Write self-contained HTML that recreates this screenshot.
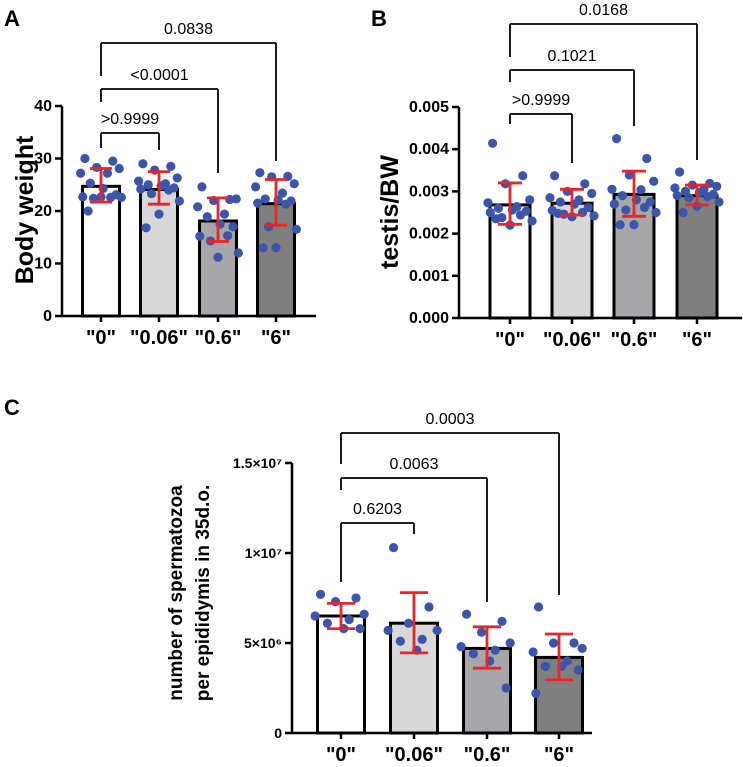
<!DOCTYPE html>
<html><head><meta charset="utf-8"><style>
html,body{margin:0;padding:0;background:#fff;}
svg{display:block;font-family:"Liberation Sans",Arial,sans-serif;}
</style></head><body>
<svg id="fig" width="743" height="767" viewBox="0 0 743 767">
<text x="4" y="26" font-size="22" font-weight="bold">A</text>
<text x="371" y="26" font-size="22" font-weight="bold">B</text>
<text x="4" y="415" font-size="22" font-weight="bold">C</text>
<text transform="translate(33,210) rotate(-90)" text-anchor="middle" font-size="25" font-weight="bold">Body weight</text>
<text transform="translate(398,212) rotate(-90)" text-anchor="middle" font-size="25" font-weight="bold">testis/BW</text>
<text transform="translate(182,593) rotate(-90)" text-anchor="middle" font-size="19" font-weight="bold">number of spermatozoa</text>
<text transform="translate(209,593) rotate(-90)" text-anchor="middle" font-size="19" font-weight="bold">per epididymis in 35d.o.</text>
</svg>
<script>
const categories = ['"0"','"0.06"','"0.6"','"6"'];
const fills = ['#ffffff','#d8d8d8','#a7a7a9','#7f7f7f'];
// Panel A
const aMeans = [24.7, 24.1, 18.1, 21.4];
const aLow = [21.7, 21.3, 14.2, 17.3];
const aHigh = [28.1, 27.5, 22.5, 26.0];
const aPoints = [
 [30,29.5,28.3,28.1,27.2,27.2,25.3,24.3,23.1,22.7,22.6,22.4,22.6,22.7,20],
 [29,28.5,27.8,26.3,25.7,25.2,25.0,24.8,24.4,24.2,24.0,23.3,21.9,19.4,16.8],
 [24.6,22.2,22.0,22.3,20.8,19.4,18.9,17.5,17.0,15.2,15.3,14.3,12.0,11.2],
 [27.3,26.6,26.5,25.2,24.6,23.4,22.3,22.1,21.9,21.5,21.3,17.0,16.5,13.0,13.0]];
const aTicks = [0,10,20,30,40];
const aTickLabels = ['0','10','20','30','40'];
const aPvals = ['>0.9999','<0.0001','0.0838'];
// Panel B
const bMeans = [0.00268, 0.00272, 0.00293, 0.00290];
const bLow = [0.00222, 0.00244, 0.00241, 0.00268];
const bHigh = [0.00320, 0.00305, 0.00348, 0.00315];
const bPoints = [
 [0.00414,0.00337,0.00318,0.0028,0.00273,0.00264,0.00260,0.00256,0.00253,0.0025,0.00244,0.00238,0.0023,0.0022,0.00235],
 [0.00337,0.00318,0.0030,0.00295,0.00285,0.0028,0.00275,0.0027,0.00262,0.00255,0.0025,0.00246,0.00242,0.0024,0.00248],
 [0.00425,0.00378,0.00339,0.00324,0.00305,0.00304,0.0029,0.00280,0.00275,0.00270,0.00262,0.00256,0.00250,0.00221,0.00221],
 [0.00346,0.00319,0.00315,0.00312,0.00308,0.00305,0.00300,0.00297,0.00293,0.0029,0.00288,0.00285,0.00275,0.00265,0.00250]];
const bTicks = [0,0.001,0.002,0.003,0.004,0.005];
const bTickLabels = ['0.000','0.001','0.002','0.003','0.004','0.005'];
const bPvals = ['>0.9999','0.1021','0.0168'];
// Panel C
const cMeans = [6.5e6, 6.1e6, 4.7e6, 4.2e6];
const cLow = [5.8e6, 4.45e6, 3.6e6, 2.95e6];
const cHigh = [7.2e6, 7.8e6, 5.9e6, 5.5e6];
const cPoints = [
 [7.7e6,7.5e6,7.3e6,6.6e6,6.5e6,6.3e6,6.1e6,5.8e6,5.8e6],
 [10.3e6,7.0e6,6.1e6,5.7e6,5.7e6,5.2e6,5.1e6,4.6e6],
 [6.6e6,6.2e6,5.6e6,5.0e6,4.8e6,4.6e6,4.4e6,4.0e6,2.5e6],
 [7.0e6,5.0e6,5.0e6,4.7e6,4.5e6,4.0e6,3.7e6,3.7e6,3.5e6,2.2e6]];
const cTicks = [0,5e6,1e7,1.5e7];
const cTickLabels = ['0','5×10⁶','1×10⁷','1.5×10⁷'];
const cPvals = ['0.6203','0.0063','0.0003'];

const NS='http://www.w3.org/2000/svg';
const svg=document.getElementById('fig');
function mk(tag,attrs,parent){const e=document.createElementNS(NS,tag);for(const k in attrs)e.setAttribute(k,attrs[k]);(parent||svg).appendChild(e);return e;}
const jit=[-0.75,0.55,-0.2,0.85,-0.95,0.3,-0.5,0.1,0.7,-0.85,0.45,-0.35,0.95,0.0,-0.6];

function panel(p,cfg){
 const g=mk('g',{});
 
 
 const y=v=>cfg.y0-(v-cfg.vmin)/(cfg.vmax-cfg.vmin)*(cfg.y0-cfg.y1);
 const x=i=>cfg.cx[i];
 cfg.means.forEach((m,i)=>{
  const r=mk('rect',{x:x(i)-cfg.bw/2,y:y(m),width:cfg.bw,height:cfg.y0-y(m),fill:fills[i],stroke:'#000','stroke-width':3},g);
  
  
 });
 cfg.points.forEach((arr,i)=>arr.forEach((v,j)=>{
  const c=mk('circle',{cx:x(i)+jit[j%jit.length]*cfg.bw*0.58,cy:y(v),r:cfg.pr,fill:'#3a55aa'},g);
  
  
 }));
 cfg.means.forEach((m,i)=>{
  const e=mk('g',{stroke:'#e8262a','stroke-width':2.8,fill:'none'},g);
  
  
  const lo=y(cfg.low[i]),hi=y(cfg.high[i]),w=cfg.bw*0.3;
  mk('line',{x1:x(i),x2:x(i),y1:lo,y2:hi},e);
  mk('line',{x1:x(i)-w,x2:x(i)+w,y1:lo,y2:lo},e);
  mk('line',{x1:x(i)-w,x2:x(i)+w,y1:hi,y2:hi},e);
 });
 const ax=mk('path',{d:`M${cfg.ax},${cfg.y1} V${cfg.y0} H${cfg.axEnd}`,stroke:'#000','stroke-width':2.5,fill:'none'},g);
 
 
 cfg.ticks.forEach((t,k)=>{
  mk('line',{x1:cfg.ax-7,x2:cfg.ax,y1:y(t),y2:y(t),stroke:'#000','stroke-width':2.5},g);
  const tl=mk('text',{x:cfg.ax-10,y:y(t)+5,'text-anchor':'end','font-size':cfg.tfs,'font-weight':'bold'},g);
  tl.textContent=cfg.tickLabels[k];
  
  
 });
 categories.forEach((c,i)=>{
  mk('line',{x1:x(i),x2:x(i),y1:cfg.y0,y2:cfg.y0+6,stroke:'#000','stroke-width':2.5},g);
  const t=mk('text',{x:x(i),y:cfg.y0+28,'text-anchor':'middle','font-size':20,'font-weight':'bold'},g);
  t.textContent=c;
  
  
 });
 cfg.br.forEach((b,k)=>{
  const bg=mk('g',{stroke:'#000','stroke-width':1.8,fill:'none'},g);
  
  
  mk('line',{x1:x(0),x2:x(0),y1:b[0],y2:b[1]},bg);
  mk('line',{x1:x(0),x2:x(k+1),y1:b[0],y2:b[0]},bg);
  mk('line',{x1:x(k+1),x2:x(k+1),y1:b[0],y2:b[2]},bg);
  const t=mk('text',{x:(x(0)+x(k+1))/2,y:b[0]-9,'text-anchor':'middle','font-size':16},g);
  t.textContent=cfg.pvals[k];
  
  
 });
}
panel('a',{vmin:0,vmax:40,y0:316,y1:106,cx:[101,159,218,276],bw:37,pr:4.6,ax:62,axEnd:316,ticks:aTicks,tickLabels:aTickLabels,tfs:16,
 means:aMeans,low:aLow,high:aHigh,points:aPoints,pvals:aPvals,br:[[133,148,150],[89,102,173],[43,76,161]]});
panel('b',{vmin:0,vmax:0.005,y0:318,y1:107,cx:[510,572,634,697],bw:40,pr:4.6,ax:459,axEnd:742,ticks:bTicks,tickLabels:bTickLabels,tfs:16,
 means:bMeans,low:bLow,high:bHigh,points:bPoints,pvals:bPvals,br:[[114,124,163],[70,82,126],[24,57,160]]});
panel('c',{vmin:0,vmax:1.5e7,y0:733,y1:463,cx:[341,414,487,559],bw:47,pr:4.6,ax:292,axEnd:592,ticks:cTicks,tickLabels:cTickLabels,tfs:14,
 means:cMeans,low:cLow,high:cHigh,points:cPoints,pvals:cPvals,br:[[523,582,534],[478,490,602],[433,464,595]]});
</script>
</body></html>
